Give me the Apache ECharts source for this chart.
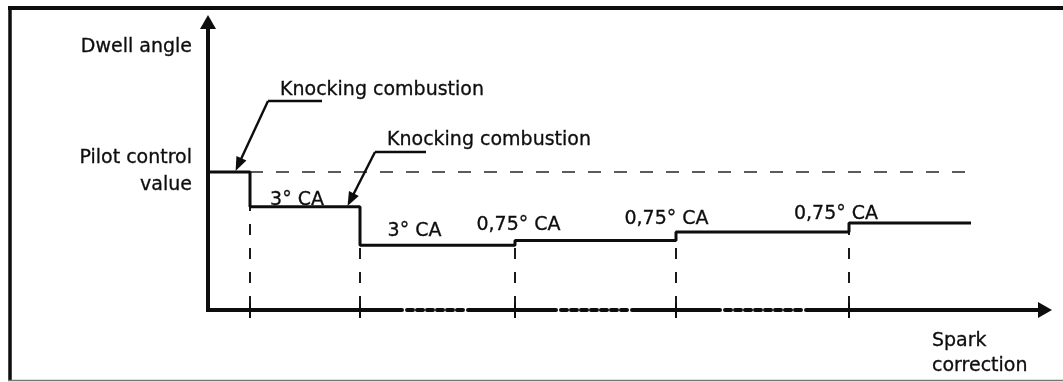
<!DOCTYPE html>
<html><head><meta charset="utf-8">
<script src="https://cdn.jsdelivr.net/npm/echarts@6/dist/echarts.min.js"></script>
<style>html,body{margin:0;padding:0;background:#fff}#c{width:1063px;height:382px}</style>
</head><body><div id="c"></div>
<script>
// ---- data (x: spark correction, arbitrary steps; y: dwell angle scale) ----
const knockX = [0, 4.2, 15.2, 30.7, 46.8, 64.1];
const dwellLevels = [11.5, 8.6, 5.4, 5.8, 6.5, 7.25];
const endX = 76.3;
const pilotValue = 11.5;
const pilotLineEnd = 77.0;
const stepLabels = ['3° CA', '3° CA', '0,75° CA', '0,75° CA', '0,75° CA'];
const stepLabelAt = [[8.9, 9.2], [20.65, 6.6], [31.05, 7.1], [45.85, 7.6], [62.8, 8.0]];
const knockLabels = ['Knocking combustion', 'Knocking combustion'];
const knockLabelAt = [[7.2, 18.35], [17.9, 14.2]];
const leaderElbow = [[6.0, 17.42], [16.7, 13.17]];
const leaderEnd = [[11.4, 17.42], [21.8, 13.17]];
const leaderTip = [[3.05, 12.12], [14.27, 9.19]];
const xMax = 83.7, yMax = 24;
const yAxisTitle = 'Dwell angle';
const xAxisTitle = 'Spark\ncorrection';
const pilotTitle = 'Pilot control\nvalue';

// ---- derived ----
const stepData = knockX.map((x, i) => [x, dwellLevels[i]]).concat([[endX, dwellLevels[dwellLevels.length - 1]]]);
const dropData = knockX.slice(1).map((x, i) => [x, Math.min(dwellLevels[i], dwellLevels[i + 1])]);
const leaderLines = [];
leaderElbow.forEach((e, i) => {
  leaderLines.push([{ coord: leaderEnd[i], symbol: 'none' }, { coord: e, symbol: 'none' }]);
  leaderLines.push([{ coord: e, symbol: 'none' }, { coord: leaderTip[i], symbol: 'triangle' }]);
});

const FONT = 'DejaVu Sans';
const INK = '#0d0d0d';
const TXT = { fontFamily: FONT, fontSize: 19, color: INK, textBorderColor: INK, textBorderWidth: 0.3 };
const axisDash = [194, 5, 6, 4, 6, 4, 6, 4, 6, 4, 6, 4, 6, 5,
  88, 5, 6, 4, 6, 4, 6, 4, 6, 4, 6, 4, 6, 4, 6, 5,
  88, 5, 6, 4, 6, 4, 6, 4, 6, 4, 6, 4, 6, 4, 6, 4, 6, 5, 600];

const chart = echarts.init(document.getElementById('c'), null, { renderer: 'canvas' });
chart.setOption({
  animation: false,
  backgroundColor: '#fff',
  textStyle: { fontFamily: FONT, color: INK },
  grid: { left: 208, right: 18, top: 22, bottom: 72, containLabel: false, outerBoundsMode: 'none' },
  xAxis: {
    type: 'value', min: 0, max: xMax,
    name: xAxisTitle, nameLocation: 'end', nameGap: -113,
    nameTextStyle: Object.assign({}, TXT, { align: 'left', verticalAlign: 'top', lineHeight: 25, padding: [19, 0, 0, 0] }),
    axisLine: { show: true, onZero: true, symbol: ['none', 'triangle'], symbolSize: [16, 14],
      lineStyle: { color: INK, width: 4, type: axisDash } },
    axisTick: { show: false }, axisLabel: { show: false }, splitLine: { show: false }
  },
  yAxis: {
    type: 'value', min: 0, max: yMax,
    name: yAxisTitle, nameLocation: 'end', nameGap: -25,
    nameTextStyle: Object.assign({}, TXT, { align: 'right', verticalAlign: 'middle', padding: [0, 16, 0, 0] }),
    axisLine: { show: true, onZero: true, symbol: ['none', 'triangle'], symbolSize: [16, 14],
      lineStyle: { color: INK, width: 4, cap: 'square' } },
    axisTick: { show: false }, splitLine: { show: false },
    axisLabel: Object.assign({ show: true, customValues: [pilotValue], formatter: () => pilotTitle, margin: 16,
      lineHeight: 27, padding: [0, 0, 11, 0] }, TXT)
  },
  graphic: [
    { type: 'line', shape: { x1: 8, y1: 8, x2: 1063, y2: 8 }, style: { stroke: INK, lineWidth: 4 }, silent: true },
    { type: 'line', shape: { x1: 10, y1: 6, x2: 10, y2: 381 }, style: { stroke: INK, lineWidth: 3.5 }, silent: true },
    { type: 'line', shape: { x1: 8, y1: 380.5, x2: 1063, y2: 380.5 }, style: { stroke: '#777', lineWidth: 1.5 }, silent: true }
  ],
  series: [
    {
      type: 'custom', name: 'drop', clip: false, z: 1,
      data: dropData,
      encode: { x: 0, y: 1 },
      renderItem: (params, api) => {
        const x = api.value(0), top = api.value(1);
        const pt = api.coord([x, top]);
        const p0 = api.coord([x, 0]);
        return { type: 'group', children: [
          { type: 'line', shape: { x1: p0[0], y1: p0[1], x2: pt[0], y2: pt[1] },
            style: { stroke: '#1a1a1a', lineWidth: 2, lineDash: [11, 13], lineDashOffset: 21 } },
          { type: 'line', shape: { x1: p0[0], y1: p0[1] - 7, x2: p0[0], y2: p0[1] + 8 },
            style: { stroke: INK, lineWidth: 2 } }
        ] };
      }
    },
    {
      type: 'line', name: 'pilot', data: [[knockX[1], pilotValue], [pilotLineEnd, pilotValue]],
      symbol: 'none', z: 2, lineStyle: { color: '#333', width: 1.6, type: [13, 13] }
    },
    {
      type: 'line', name: 'dwell', data: stepData, step: 'end', symbol: 'none', z: 3,
      lineStyle: { color: INK, width: 3 },
      markLine: {
        silent: true, symbolSize: [11, 14], animation: false,
        lineStyle: { color: INK, width: 2.4, type: 'solid' },
        label: { show: false },
        data: leaderLines
      }
    },
    {
      type: 'scatter', name: 'stepLabels', symbolSize: 0, z: 4, itemStyle: { opacity: 1 },
      data: stepLabelAt.map((p, i) => ({ value: p, name: stepLabels[i] })),
      label: Object.assign({ show: true, position: 'inside', formatter: p => p.name }, TXT)
    },
    {
      type: 'scatter', name: 'knockLabels', symbolSize: 0, z: 4, itemStyle: { opacity: 1 },
      data: knockLabelAt.map((p, i) => ({ value: p, name: knockLabels[i] })),
      label: Object.assign({ show: true, position: 'right', distance: 0, formatter: p => p.name }, TXT)
    }
  ]
});
</script></body></html>
